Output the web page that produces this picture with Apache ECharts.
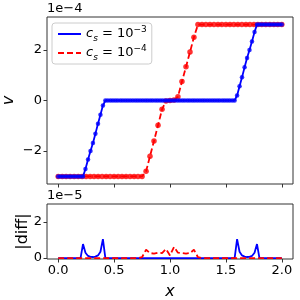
<!DOCTYPE html>
<html><head><meta charset="utf-8">
<script src="https://cdn.jsdelivr.net/npm/echarts@6/dist/echarts.min.js"></script>
<style>html,body{margin:0;padding:0;background:#fff}#c{width:300px;height:300px}</style>
</head><body><div id="c"></div>
<script>
// ---- data (v in units of 1e-4, |diff| in units of 1e-5) ----
const xBlue = [0,0.022,0.044,0.067,0.089,0.111,0.133,0.156,0.178,0.2,0.222,0.244,0.267,0.289,0.311,0.333,0.356,0.378,0.4,0.422,0.444,0.467,0.489,0.511,0.533,0.556,0.578,0.6,0.622,0.644,0.667,0.689,0.711,0.733,0.756,0.778,0.8,0.822,0.844,0.867,0.889,0.911,0.933,0.956,0.978,1.0,1.022,1.044,1.067,1.089,1.111,1.133,1.156,1.178,1.2,1.222,1.244,1.267,1.289,1.311,1.333,1.356,1.378,1.4,1.422,1.444,1.467,1.489,1.511,1.533,1.556,1.578,1.6,1.622,1.644,1.667,1.689,1.711,1.733,1.756,1.778,1.8,1.822,1.844,1.867,1.889,1.911,1.933,1.956,1.978,2.0];
const vBlue = [-3,-3,-3,-3,-3,-3,-3,-3,-3,-3,-3,
  -2.71,-2.33,-2.0,-1.68,-1.31,-0.92,-0.56,-0.2,
  0,0,0,0,0,0,0,0,0,0,0,0,0,0,0,0,0,0,0,0,0,0,0,0,0,0,0,0,0,0,0,0,0,0,0,0,0,0,0,0,0,0,0,0,0,0,0,0,0,0,0,0,0,
  0.2,0.56,0.92,1.31,1.68,2.0,2.33,2.71,
  3,3,3,3,3,3,3,3,3,3,3];
const dBlue = [0,0,0,0,0,0,0,0,0,0,
  0.78,0.3,0.12,0.07,0.06,0.08,0.15,0.35,1.05,
  0,0,0,0,0,0,0,0,0,0,0,0,0,0,0,0,0,0,0,0,0,0,0,0,0,0,0,0,0,0,0,0,0,0,0,0,0,0,0,0,0,0,0,0,0,0,0,0,0,0,0,0,0,
  1.05,0.35,0.15,0.08,0.06,0.07,0.12,0.3,0.78,
  0,0,0,0,0,0,0,0,0,0];
const xRed = [0,0.036,0.071,0.107,0.143,0.179,0.214,0.25,0.286,0.321,0.357,0.393,0.429,0.464,0.5,0.536,0.571,0.607,0.643,0.679,0.714,0.75,0.786,0.821,0.857,0.893,0.929,0.964,1.0,1.036,1.071,1.107,1.143,1.179,1.214,1.25,1.286,1.321,1.357,1.393,1.429,1.464,1.5,1.536,1.571,1.607,1.643,1.679,1.714,1.75,1.786,1.821,1.857,1.893,1.929,1.964,2.0];
const vRed = [-3,-3,-3,-3,-3,-3,-3,-3,-3,-3,-3,-3,-3,-3,-3,-3,-3,-3,-3,-3,-3,-3,
  -2.8,-2.2,-1.6,-0.98,-0.35,-0.02,0,0.02,0.15,0.75,1.33,1.92,2.5,
  3,3,3,3,3,3,3,3,3,3,3,3,3,3,3,3,3,3,3,3,3,3];
const dRed = [0,0,0,0,0,0,0,0,0,0,0,0,0,0,0,0,0,0,0,0,0,
  0.05,0.46,0.28,0.25,0.3,0.28,0.5,0.15,0.62,0.3,0.28,0.25,0.28,0.46,0.05,
  0,0,0,0,0,0,0,0,0,0,0,0,0,0,0,0,0,0,0,0,0];
const xTicks = [0,0.5,1,1.5,2];
const vTicks = [-2,0,2];
const dTicks = [0,2];
const labels = {cs3: '3', cs4: '4'};

const pairs = (xs, ys) => xs.map((x, i) => [x, ys[i]]);
const FONT = 'DejaVu Sans';
const axisCol = '#333';
const minus = v => String(v).replace('-', '\u2212');

const chart = echarts.init(document.getElementById('c'), null, {renderer: 'canvas'});
const baseX = (idx, showLabel) => ({
  type: 'value', gridIndex: idx, min: -0.1, max: 2.1, position: 'bottom',
  axisLine: {show: false, onZero: false}, splitLine: {show: false},
  axisTick: {show: true, length: 3.5, lineStyle: {color: axisCol, width: 1}, customValues: xTicks},
  axisLabel: {show: showLabel, customValues: xTicks, formatter: v => v.toFixed(1), fontFamily: FONT, fontSize: 13, color: '#000', margin: 5}
});
const baseY = (idx, mn, mx, ticks, name, gap) => ({
  type: 'value', gridIndex: idx, min: mn, max: mx, position: 'left',
  axisLine: {show: false, onZero: false}, splitLine: {show: false},
  axisTick: {show: true, length: 3.5, lineStyle: {color: axisCol, width: 1}, customValues: ticks},
  axisLabel: {customValues: ticks, formatter: v => minus(v), fontFamily: FONT, fontSize: 13, color: '#000', margin: 5},
  name: name, nameLocation: 'middle', nameGap: gap, nameMoveOverlap: false,
  nameTextStyle: {fontFamily: FONT, fontSize: 16, fontStyle: idx === 0 ? 'italic' : 'normal', color: '#000'}
});

const rich = {
  i: {fontFamily: FONT, fontSize: 13, fontStyle: 'italic', color: '#000', lineHeight: 18},
  s: {fontFamily: FONT, fontSize: 9, fontStyle: 'italic', color: '#000', lineHeight: 9, verticalAlign: 'bottom'},
  t: {fontFamily: FONT, fontSize: 13, color: '#000', lineHeight: 18},
  p: {fontFamily: FONT, fontSize: 9, color: '#000', lineHeight: 9, verticalAlign: 'top'}
};

chart.setOption({
  animation: false,
  grid: [
    {left: 47, top: 17, width: 246, height: 167, show: true, borderColor: axisCol, borderWidth: 1,
      backgroundColor: 'transparent', containLabel: false, outerBoundsMode: 'none'},
    {left: 47, top: 204, width: 246, height: 55, show: true, borderColor: axisCol, borderWidth: 1,
      backgroundColor: 'transparent', containLabel: false, outerBoundsMode: 'none'}
  ],
  xAxis: [
    baseX(0, false),
    Object.assign(baseX(1, true), {name: 'x', nameLocation: 'middle', nameGap: 25, nameMoveOverlap: false,
      nameTextStyle: {fontFamily: FONT, fontSize: 16, fontStyle: 'italic', color: '#000'}})
  ],
  yAxis: [
    baseY(0, -3.3, 3.3, vTicks, 'v', 30),
    baseY(1, -0.05, 3, dTicks, '|diff|', 16)
  ],
  legend: {
    data: ['cs3', 'cs4'], orient: 'vertical', left: 52, top: 23,
    padding: [2, 5, 2, 5], itemGap: 1, itemWidth: 23, itemHeight: 12,
    itemStyle: {opacity: 0},
    borderColor: '#ccc', borderWidth: 1, borderRadius: 3, backgroundColor: 'rgba(255,255,255,0.8)',
    formatter: n => '{i|c}{s|s}{t| = 10}{p|\u2212' + labels[n] + '}',
    textStyle: {rich: rich, lineHeight: 18}
  },
  graphic: [
    {type: 'text', left: 47, top: 2, style: {text: '1e\u22124', font: '13px "DejaVu Sans"', fill: '#000'}},
    {type: 'text', left: 47, top: 189, style: {text: '1e\u22125', font: '13px "DejaVu Sans"', fill: '#000'}}
  ],
  series: [
    {name: 'cs4', type: 'line', xAxisIndex: 0, yAxisIndex: 0, data: pairs(xRed, vRed), symbol: 'none',
      lineStyle: {color: '#ff0000', width: 1.8, type: [6, 3]}, itemStyle: {color: '#ff0000'}, z: 2},
    {name: 'cs4m', type: 'scatter', xAxisIndex: 0, yAxisIndex: 0, data: pairs(xRed, vRed), symbolSize: 5.5,
      itemStyle: {color: '#ff0000'}, z: 2},
    {name: 'cs3', type: 'line', xAxisIndex: 0, yAxisIndex: 0, data: pairs(xBlue, vBlue), symbol: 'none',
      lineStyle: {color: '#0000ff', width: 1.8}, itemStyle: {color: '#0000ff'}, z: 3},
    {name: 'cs3m', type: 'scatter', xAxisIndex: 0, yAxisIndex: 0, data: pairs(xBlue, vBlue), symbolSize: 4.5,
      itemStyle: {color: '#0000ff'}, z: 3},
    {name: 'd3', type: 'line', xAxisIndex: 1, yAxisIndex: 1, data: pairs(xBlue, dBlue), symbol: 'none',
      lineStyle: {color: '#0000ff', width: 1.8}, z: 2},
    {name: 'd4', type: 'line', xAxisIndex: 1, yAxisIndex: 1, data: pairs(xRed, dRed), symbol: 'none',
      lineStyle: {color: '#ff0000', width: 1.8, type: [6, 3]}, z: 3}
  ]
});
</script></body></html>
